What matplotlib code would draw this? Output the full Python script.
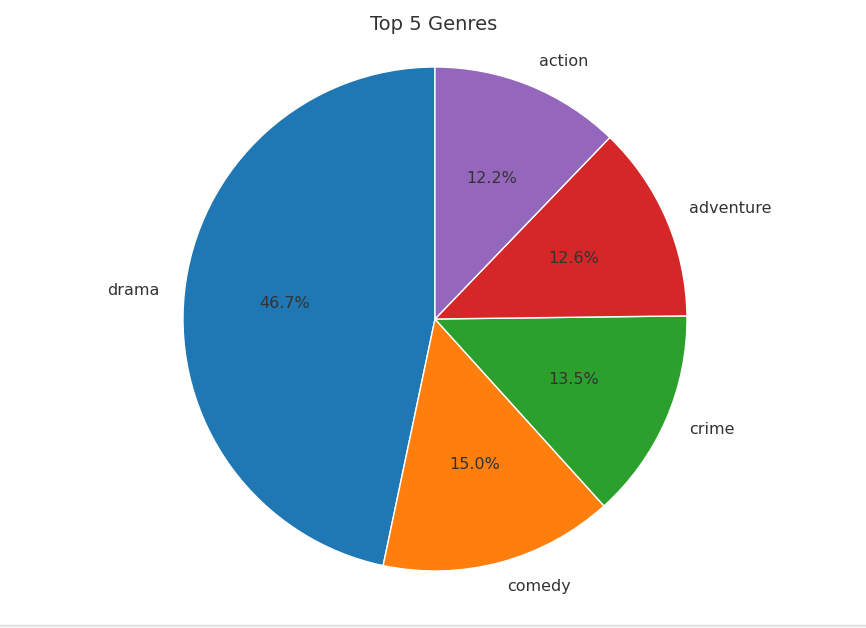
import matplotlib.pyplot as plt
from matplotlib.patches import Rectangle

genres = ['drama', 'comedy', 'crime', 'adventure', 'action']
shares = [46.7, 15.0, 13.5, 12.6, 12.2]

plt.rcParams['font.family'] = ['DejaVu Sans']
plt.rcParams['text.color'] = '0.15'

fig = plt.figure(figsize=(8.66, 6.28), dpi=100)
ax = fig.add_axes([0, 0, 1, 1])

ax.pie(shares, labels=genres, autopct='%1.1f%%', startangle=90,
       colors=['#1f77b4', '#ff7f0e', '#2ca02c', '#d62728', '#9467bd'],
       wedgeprops={'edgecolor': 'white', 'linewidth': 1.0},
       textprops={'fontsize': 11.5, 'color': '0.2'})

# place the pie: center at (435, 319) px, radius 252 px
scale = 252
cx, cy = 435, 628 - 319
ax.set_xlim(-cx / scale, (866 - cx) / scale)
ax.set_ylim(-cy / scale, (628 - cy) / scale)
ax.set_aspect('auto')
ax.axis('off')

fig.text(434 / 866, 1 - 25 / 628, 'Top 5 Genres', ha='center', va='center',
         fontsize=14, color='0.2')

# light bottom strip as in the screenshot
fig.patches.append(Rectangle((0, 0), 1, 3 / 628, transform=fig.transFigure,
                             facecolor='#f2f2f2', edgecolor='none'))
fig.lines.append(plt.Line2D([0, 1], [3.5 / 628, 3.5 / 628], transform=fig.transFigure,
                            color='#d9d9d9', linewidth=1))

fig.savefig('out.png', dpi=100)
